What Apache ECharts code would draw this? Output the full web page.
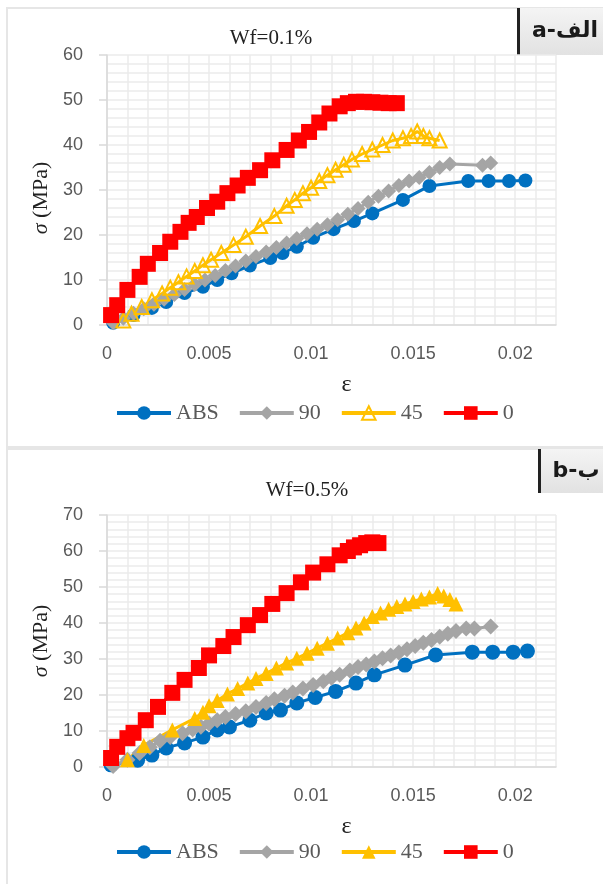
<!DOCTYPE html>
<html>
<head>
<meta charset="utf-8">
<script src="https://cdn.jsdelivr.net/npm/echarts@6/dist/echarts.min.js"></script>
<style>
html,body{margin:0;padding:0;background:#fff;}
#c{width:603px;height:884px;}
</style>
</head>
<body>
<div id="c"></div>
<script>
// ---------- data (strain ε, stress σ in MPa) ----------
const seriesNames = ['ABS', '90', '45', '0'];
const xTickLabels = ['0', '0.005', '0.01', '0.015', '0.02'];
const topTitle = 'Wf=0.1%';
const bottomTitle = 'Wf=0.5%';

const topABS = [[0.0003,0.5],[0.0013,2.2],[0.0022,3.8],[0.0029,5.1],[0.0038,7.1],[0.0047,8.5],[0.0054,10.0],[0.0061,11.5],[0.0070,13.2],[0.0080,14.9],[0.0086,16.0],[0.0093,17.4],[0.0101,19.4],[0.0111,21.3],[0.0121,23.1],[0.0130,24.8],[0.0145,27.8],[0.0158,30.9],[0.0177,32.0],[0.0187,32.0],[0.0197,32.0],[0.0205,32.1]];
const top90 = [[0.0003,0.5],[0.0008,1.5],[0.0013,2.6],[0.0018,3.6],[0.0023,4.6],[0.0028,5.7],[0.0033,6.8],[0.0038,7.9],[0.0043,9.0],[0.0048,10.0],[0.0053,11.0],[0.0058,12.1],[0.0063,13.1],[0.0068,14.2],[0.0073,15.2],[0.0078,16.2],[0.0083,17.2],[0.0088,18.2],[0.0093,19.2],[0.0098,20.3],[0.0103,21.3],[0.0108,22.3],[0.0113,23.4],[0.0118,24.6],[0.0123,25.9],[0.0128,27.3],[0.0133,28.6],[0.0138,29.8],[0.0143,31.0],[0.0148,32.0],[0.0153,32.8],[0.0158,33.9],[0.0163,35.0],[0.0168,35.8],[0.0184,35.5],[0.0188,36.0]];
const top45 = [[0.0008,1.0],[0.0012,2.5],[0.0017,4.0],[0.0022,5.5],[0.0027,7.0],[0.0031,8.3],[0.0035,9.5],[0.0039,10.8],[0.0043,12.0],[0.0047,13.3],[0.0051,14.5],[0.0056,16.0],[0.0062,17.8],[0.0068,19.6],[0.0075,22.0],[0.0082,24.2],[0.0088,26.5],[0.0092,27.8],[0.0096,29.3],[0.0100,30.5],[0.0104,32.0],[0.0108,33.3],[0.0112,34.5],[0.0116,35.6],[0.0120,36.8],[0.0125,38.0],[0.0130,39.0],[0.0135,40.0],[0.0140,41.0],[0.0145,41.5],[0.0149,42.0],[0.0152,43.0],[0.0155,42.0],[0.0158,41.5],[0.0163,41.0]];
const top0 = [[0.0002,2.2],[0.0005,4.4],[0.0010,7.8],[0.0016,10.7],[0.0020,13.6],[0.0026,16.0],[0.0031,18.5],[0.0036,20.7],[0.0040,22.7],[0.0044,24.0],[0.0049,26.0],[0.0054,27.4],[0.0059,29.3],[0.0064,31.0],[0.0069,32.7],[0.0075,34.4],[0.0081,36.6],[0.0088,38.9],[0.0094,41.0],[0.0099,42.9],[0.0104,45.0],[0.0109,47.0],[0.0114,48.6],[0.0118,49.3],[0.0122,49.6],[0.0126,49.6],[0.0130,49.5],[0.0134,49.4],[0.0138,49.3],[0.0142,49.3]];

const botABS = [[0.0002,0.6],[0.0015,1.9],[0.0022,3.3],[0.0029,5.3],[0.0038,6.7],[0.0047,8.3],[0.0054,10.3],[0.0060,11.1],[0.0070,13.0],[0.0078,15.0],[0.0085,15.8],[0.0093,17.8],[0.0102,19.3],[0.0112,21.0],[0.0122,23.3],[0.0131,25.6],[0.0146,28.3],[0.0161,31.1],[0.0179,31.9],[0.0189,31.9],[0.0199,31.9],[0.0206,32.2]];
const bot90 = [[0.0003,0.3],[0.0010,2.0],[0.0016,3.9],[0.0021,5.5],[0.0026,7.3],[0.0031,8.3],[0.0037,9.4],[0.0042,10.4],[0.0046,11.2],[0.0050,12.1],[0.0054,13.0],[0.0058,13.9],[0.0063,14.7],[0.0068,15.5],[0.0073,16.7],[0.0078,17.8],[0.0082,18.8],[0.0087,19.8],[0.0091,20.7],[0.0096,21.8],[0.0101,22.8],[0.0106,23.8],[0.0110,24.8],[0.0114,25.6],[0.0119,26.8],[0.0123,27.8],[0.0127,28.5],[0.0131,29.3],[0.0135,30.2],[0.0139,31.0],[0.0143,31.8],[0.0147,32.7],[0.0151,33.6],[0.0155,34.5],[0.0159,35.3],[0.0163,36.2],[0.0167,37.0],[0.0171,37.8],[0.0176,38.5],[0.0180,38.5],[0.0188,39.0]];
const bot45 = [[0.0010,2.0],[0.0018,6.0],[0.0032,10.3],[0.0043,13.5],[0.0047,15.2],[0.0050,17.0],[0.0054,18.5],[0.0059,20.3],[0.0064,21.8],[0.0069,23.3],[0.0073,24.6],[0.0078,26.0],[0.0083,27.5],[0.0088,28.9],[0.0093,30.2],[0.0098,31.6],[0.0103,33.0],[0.0108,34.4],[0.0113,35.8],[0.0118,37.3],[0.0122,38.6],[0.0126,40.0],[0.0130,41.8],[0.0134,42.8],[0.0138,43.8],[0.0142,44.6],[0.0146,45.3],[0.0150,46.0],[0.0154,46.7],[0.0158,47.2],[0.0162,48.2],[0.0165,47.5],[0.0168,46.5],[0.0171,45.3]];
const bot0 = [[0.0002,2.5],[0.0005,5.6],[0.0010,8.0],[0.0013,9.5],[0.0019,13.0],[0.0025,16.7],[0.0032,20.6],[0.0038,24.2],[0.0045,27.5],[0.0050,31.0],[0.0057,33.6],[0.0062,36.1],[0.0069,39.4],[0.0075,42.2],[0.0081,45.3],[0.0088,48.3],[0.0095,51.3],[0.0101,54.0],[0.0108,56.3],[0.0114,58.8],[0.0118,60.0],[0.0121,61.0],[0.0124,61.6],[0.0127,62.2],[0.0130,62.4],[0.0133,62.2]];

// ---------- styling ----------
const C_ABS = '#0070C0', C_90 = '#A5A5A5', C_45 = '#FFC000', C_0 = '#FF0000';
const gridCol = '#ebebeb';
const labelCol = '#595959';
const sansFont = 'Liberation Sans';
const serifFont = 'Liberation Serif';

const chart = echarts.init(document.getElementById('c'), null, {renderer: 'canvas'});

const grids = [
  {left: 107, top: 55, width: 449, height: 270},
  {left: 107, top: 515, width: 449, height: 252}
];
const yMax = [60, 70];
const yNamePad = [[0, 16, 0, 0], [0, 0, 0, 0]];

const xAxes = [], yAxes = [];
grids.forEach((g, i) => {
  xAxes.push({
    type: 'value', gridIndex: i, min: 0, max: 0.022, interval: 0.005,
    name: 'ε', nameLocation: 'middle', nameGap: 48,
    nameTextStyle: {fontFamily: serifFont, fontSize: 24, color: '#222', padding: [0, 0, 0, 30]},
    axisLine: {show: true, onZero: false, lineStyle: {color: '#d9d9d9', width: 1.5}},
    axisTick: {show: false},
    axisLabel: {showMaxLabel: false, margin: 20, fontFamily: sansFont, fontSize: 18, color: labelCol,
      formatter: v => { const k = Math.round(v / 0.005); return Math.abs(v - k * 0.005) < 1e-9 ? xTickLabels[k] : ''; }},
    splitLine: {show: false}
  });
  xAxes.push({
    type: 'value', gridIndex: i, min: 0, max: 0.022, interval: 0.001, position: 'bottom',
    axisLine: {show: false}, axisTick: {show: false}, axisLabel: {show: false},
    splitLine: {show: true, lineStyle: {color: gridCol, width: 1.5}}
  });
  yAxes.push({
    type: 'value', gridIndex: i, min: 0, max: yMax[i], interval: 10,
    name: '{i|σ} (MPa)', nameLocation: 'middle', nameGap: 48, nameRotate: 90,
    nameTextStyle: {fontFamily: serifFont, fontSize: 22, color: '#222', padding: yNamePad[i],
      rich: {i: {fontFamily: serifFont, fontStyle: 'italic', fontSize: 22, color: '#222'}}},
    axisLine: {show: true, lineStyle: {color: '#d9d9d9', width: 1.5}},
    axisTick: {show: true, length: 8, lineStyle: {color: '#d9d9d9', width: 1.5}},
    axisLabel: {margin: 24, fontFamily: sansFont, fontSize: 18, color: labelCol},
    splitLine: {show: false}
  });
  yAxes.push({
    type: 'value', gridIndex: i, min: 0, max: yMax[i], interval: 2, position: 'left',
    axisLine: {show: false}, axisTick: {show: false}, axisLabel: {show: false},
    splitLine: {show: true, lineStyle: {color: gridCol, width: 1.5}}
  });
});

function mk(name, data, gi, color, symbol, size, hollow) {
  return {
    name: name, type: 'line', data: data,
    xAxisIndex: gi * 2, yAxisIndex: gi * 2,
    symbol: symbol, symbolSize: size, showAllSymbol: true,
    lineStyle: {color: color, width: 3},
    itemStyle: hollow ? {color: 'rgba(255,255,255,0)', borderColor: color, borderWidth: 2}
                      : {color: color, borderWidth: 0},
    emphasis: {disabled: true},
    z: 2
  };
}

const series = [
  mk('ABS', topABS, 0, C_ABS, 'circle', 14),
  mk('90', top90, 0, C_90, 'diamond', 15),
  mk('45', top45, 0, C_45, 'triangle', 14, true),
  mk('0', top0, 0, C_0, 'rect', 16),
  mk('ABS', botABS, 1, C_ABS, 'circle', 15),
  mk('90', bot90, 1, C_90, 'diamond', 16),
  mk('45', bot45, 1, C_45, 'triangle', 15),
  mk('0', bot0, 1, C_0, 'rect', 16)
];

const legendCommon = {
  left: 110, itemWidth: 54, itemHeight: 17, itemGap: 19,
  lineStyle: {width: 4},
  textStyle: {fontFamily: serifFont, fontSize: 22, color: labelCol},
  selectedMode: false
};
const bottomLegendData = seriesNames.map(n => n === '45'
  ? {name: n, itemStyle: {color: C_45, borderColor: C_45, borderWidth: 0}}
  : {name: n});

function labelBox(x, y, w, h, text) {
  return {
    type: 'group', x: x, y: y,
    children: [
      {type: 'rect', shape: {x: 0, y: 0, width: w, height: h},
        style: {fill: new echarts.graphic.LinearGradient(0, 0, 0, 1, [{offset: 0, color: '#f4f4f4'}, {offset: 1, color: '#e2e2e2'}])}},
      {type: 'rect', shape: {x: 0, y: 0, width: 3, height: h}, style: {fill: '#222'}},
      {type: 'text', x: w / 2 + 3, y: h / 2,
        style: {text: text, fontFamily: 'DejaVu Sans', fontWeight: 'bold', fontSize: 22, fill: '#1a1a1a',
          textAlign: 'center', textVerticalAlign: 'middle'}}
    ]
  };
}

chart.setOption({
  animation: false,
  backgroundColor: '#fff',
  grid: grids,
  xAxis: xAxes,
  yAxis: yAxes,
  legend: [
    Object.assign({top: 397, data: seriesNames.map(n => ({name: n}))}, legendCommon),
    Object.assign({top: 836, data: bottomLegendData}, legendCommon)
  ],
  series: series,
  graphic: [
    {type: 'rect', z: -10, shape: {x: 7, y: 8, width: 610, height: 439}, style: {fill: 'none', stroke: '#e6e6e6', lineWidth: 2}},
    {type: 'rect', z: -10, shape: {x: 7, y: 449, width: 610, height: 450}, style: {fill: 'none', stroke: '#e6e6e6', lineWidth: 2}},
    {type: 'text', x: 271, y: 38, style: {text: topTitle, fontFamily: serifFont, fontSize: 21, fill: '#222', textAlign: 'center', textVerticalAlign: 'middle'}},
    {type: 'text', x: 307, y: 490, style: {text: bottomTitle, fontFamily: serifFont, fontSize: 21, fill: '#222', textAlign: 'center', textVerticalAlign: 'middle'}},
    labelBox(517, 8, 90, 47, 'a-الف'),
    labelBox(538, 449, 70, 44, 'b-ب')
  ]
});
</script>
</body>
</html>
